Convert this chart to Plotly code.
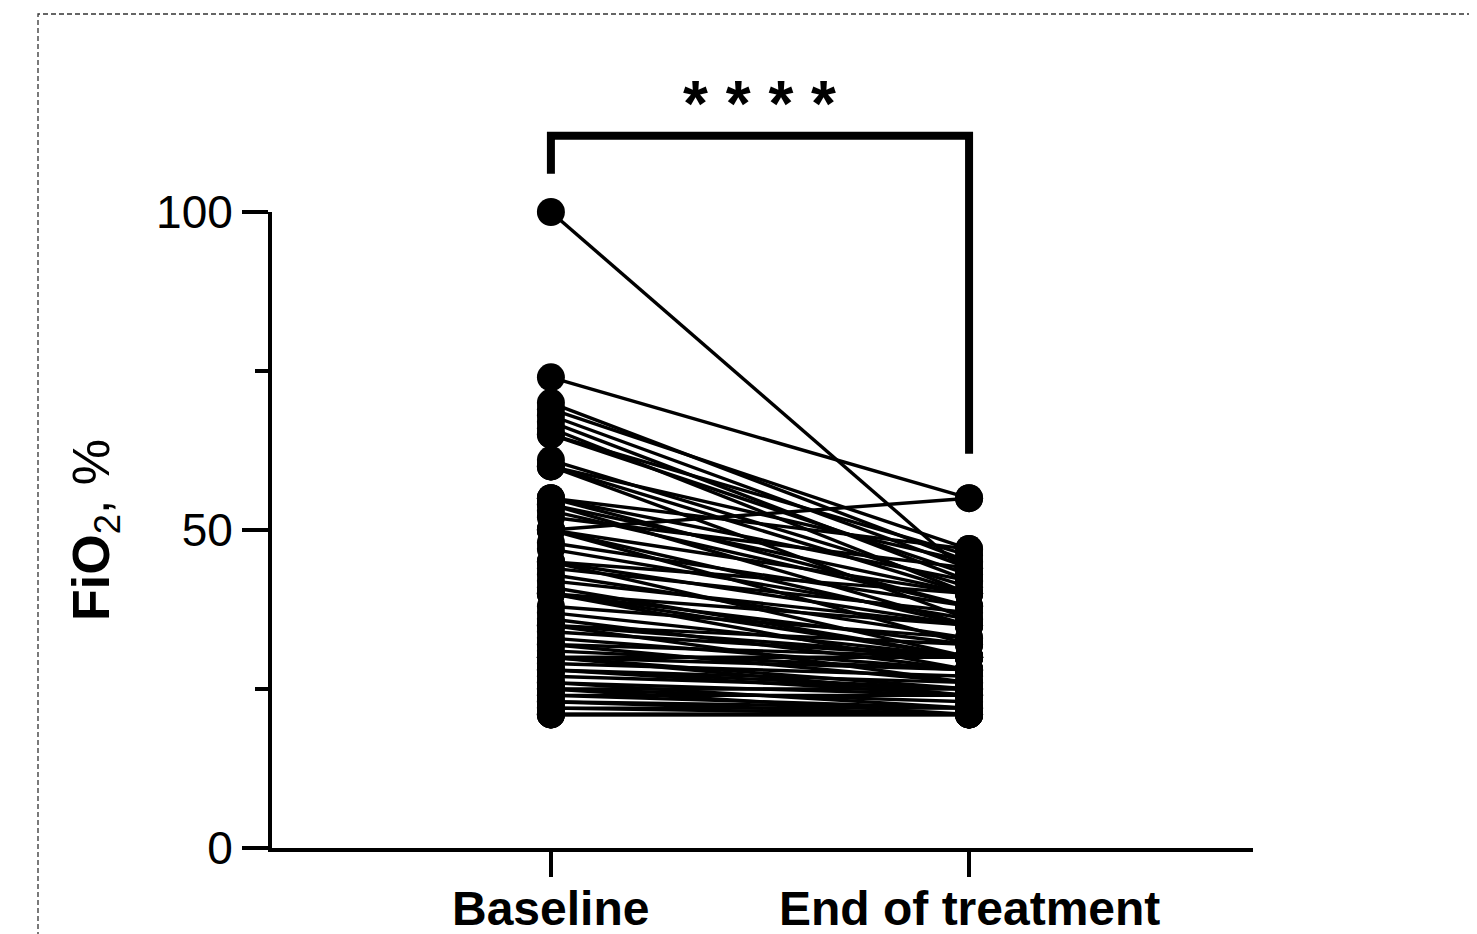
import plotly.graph_objects as go

# ---- data ----
categories = ["Baseline", "End of treatment"]
cat_pos = [0, 1]
baseline = [100, 74, 70, 69, 68, 67, 66, 65, 65, 61,
            60, 60, 60, 55, 55, 55, 54, 54, 53, 52,
            50, 50, 50, 50, 48, 47, 45, 45, 45, 44,
            43, 42, 41, 40, 40, 40, 40, 38, 37, 36,
            35, 35, 35, 34, 33, 32, 32, 31, 30, 30,
            30, 30, 29, 28, 28, 28, 27, 26, 26, 25,
            25, 25, 24, 24, 23, 23, 22, 22, 21, 21,
            21, 21]
end_of_treatment = [43, 55, 45, 47, 44, 42, 40, 46, 43, 41,
                    45, 40, 36, 42, 38, 47, 40, 35, 38, 44,
                    55, 40, 35, 32, 38, 36, 40, 35, 30, 37,
                    33, 35, 30, 35, 32, 30, 28, 33, 30, 28,
                    32, 30, 26, 30, 28, 30, 26, 28, 30, 28,
                    25, 24, 27, 26, 25, 24, 25, 24, 22, 25,
                    23, 21, 24, 22, 22, 21, 22, 21, 21, 21,
                    21, 21]
y_range = [0, 100]
y_tickvals = [0, 50, 100]
y_minor_tickvals = [25, 75]
significance = "* * * *"
bracket_top = 112
bracket_left_end = 106
bracket_right_end = 62
stars_level = 117.0

FONT = "Arial, Liberation Sans, sans-serif"

# figure geometry (page has an 8px body margin)
W, H = 1461, 926
L, R, T, B = 264, 216, 204, 86
PW, PH = W - L - R, H - T - B


def ypaper(v):
    return (v - y_range[0]) / (y_range[1] - y_range[0])


xs, ys = [], []
for b, e in zip(baseline, end_of_treatment):
    xs += [cat_pos[0], cat_pos[1], None]
    ys += [b, e, None]

fig = go.Figure()
fig.add_trace(go.Scatter(
    x=xs, y=ys, mode="lines+markers",
    line=dict(color="black", width=3.4),
    marker=dict(color="black", size=28, line=dict(width=0)),
    cliponaxis=False, showlegend=False, hoverinfo="skip",
))

# significance bracket
fig.add_shape(type="path", xref="x", yref="paper",
              path=f"M {cat_pos[0]},{ypaper(bracket_left_end)} L {cat_pos[0]},{ypaper(bracket_top)} "
                   f"L {cat_pos[1]},{ypaper(bracket_top)} L {cat_pos[1]},{ypaper(bracket_right_end)}",
              line=dict(color="black", width=8))
fig.add_annotation(x=0.5, y=ypaper(stars_level), xref="x", yref="paper", text=f"<b>{significance}</b>",
                   showarrow=False, font=dict(family=FONT, size=64, color="black"),
                   xanchor="center", yanchor="middle")

# category labels
for pos, cat in zip(cat_pos, categories):
    fig.add_annotation(x=pos, y=(T + PH - 900) / PH, xref="x", yref="paper",
                       text=f"<b>{cat}</b>", showarrow=False,
                       font=dict(family=FONT, size=48, color="black"),
                       xanchor="center", yanchor="middle")

# y-axis title as rotated text
fig.add_annotation(x=(87 - L) / PW, y=0.5, xref="paper", yref="paper",
                   text="<b>FiO</b><sub>2</sub>, %", textangle=-90, showarrow=False,
                   font=dict(family=FONT, size=52, color="black"),
                   xanchor="center", yanchor="middle")

# dashed frame
fig.add_shape(type="rect", xref="paper", yref="paper",
              x0=(30 - L) / PW, x1=(W + 20 - L) / PW,
              y0=(PH + T - (H + 20)) / PH, y1=(PH + T - 6) / PH,
              line=dict(color="#333333", width=1.3, dash="5px,3px"), layer="below")

fig.update_layout(
    width=W, height=H,
    margin=dict(l=L, r=R, t=T, b=B, autoexpand=False),
    paper_bgcolor="white", plot_bgcolor="white",
    font=dict(family=FONT, color="black"),
    xaxis=dict(range=[-0.667, 1.679], tickvals=cat_pos, showticklabels=False,
               showgrid=False, zeroline=False, showline=True, linecolor="black", linewidth=4,
               ticks="outside", ticklen=25, tickwidth=4, tickcolor="black", automargin=False),
    yaxis=dict(range=y_range, tickvals=y_tickvals, showgrid=False, zeroline=False,
               showline=True, linecolor="black", linewidth=4, automargin=False,
               ticks="outside", ticklen=26, tickwidth=4, tickcolor="black",
               tickfont=dict(family=FONT, size=46, color="black"),
               minor=dict(tickvals=y_minor_tickvals, ticks="outside", ticklen=13,
                          tickwidth=4, tickcolor="black")),
)

fig.write_html("out.html")
